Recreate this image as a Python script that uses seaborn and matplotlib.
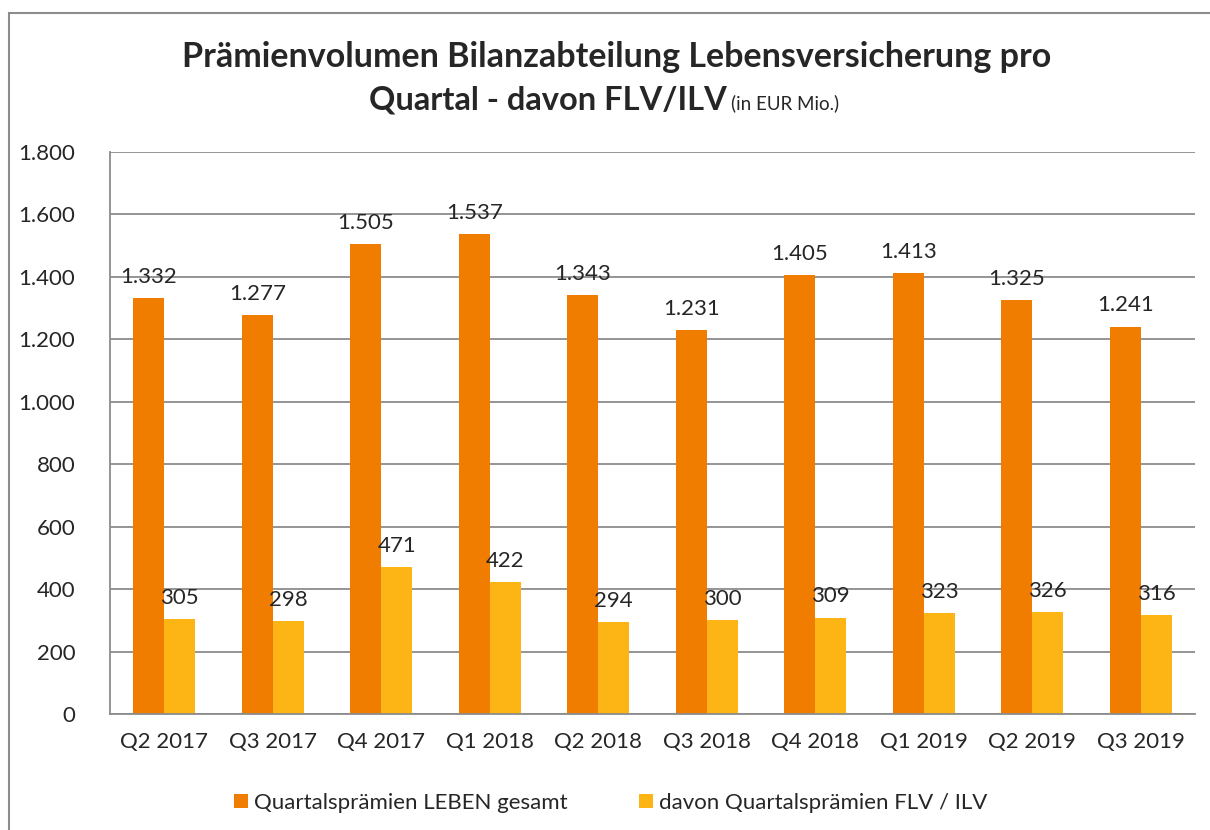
import matplotlib
matplotlib.use("Agg")
import matplotlib.pyplot as plt
import seaborn as sns
import pandas as pd
from matplotlib.patches import Rectangle, Patch

quarters = ["Q2 2017", "Q3 2017", "Q4 2017", "Q1 2018", "Q2 2018",
            "Q3 2018", "Q4 2018", "Q1 2019", "Q2 2019", "Q3 2019"]
gesamt = [1332, 1277, 1505, 1537, 1343, 1231, 1405, 1413, 1325, 1241]
flv_ilv = [305, 298, 471, 422, 294, 300, 309, 323, 326, 316]
series_names = ["Quartalsprämien LEBEN gesamt", "davon Quartalsprämien FLV / ILV"]
colors = ["#F07D00", "#FDB515"]
yticks = [0, 200, 400, 600, 800, 1000, 1200, 1400, 1600, 1800]

df = pd.DataFrame({
    "Quartal": quarters * 2,
    "Wert": gesamt + flv_ilv,
    "Serie": [series_names[0]] * len(quarters) + [series_names[1]] * len(quarters),
})

sns.set_style("white")
plt.rcParams["font.family"] = ["Lato", "DejaVu Sans"]

fig = plt.figure(figsize=(12.1, 8.3), dpi=100)
ax = fig.add_axes([110 / 1210, 1 - 714 / 830, (1195 - 110) / 1210, (714 - 152) / 830])

sns.barplot(data=df, x="Quartal", y="Wert", hue="Serie", palette=colors,
            width=0.57, saturation=1, ax=ax, legend=False, order=quarters,
            hue_order=series_names, linewidth=0)

ax.set_ylim(0, 1800)
ax.set_yticks(yticks)
ax.set_yticklabels([f"{v:,}".replace(",", ".") for v in yticks], fontsize=16)
ax.set_xlim(-0.5, len(quarters) - 0.5)
ax.tick_params(axis="x", labelsize=16, length=0, pad=13)
ax.tick_params(axis="y", length=0, pad=25)
ax.set_xlabel("")
ax.set_ylabel("")
ax.yaxis.grid(True, color="#8c8c8c", linewidth=1.3)
ax.set_axisbelow(True)
for s in ["top", "right"]:
    ax.spines[s].set_visible(False)
for s in ["left", "bottom"]:
    ax.spines[s].set_color("#8c8c8c")
    ax.spines[s].set_linewidth(1.3)

for cont in ax.containers:
    ax.bar_label(cont, labels=[f"{int(round(b.get_height())):,}".replace(",", ".") for b in cont],
                 padding=8, fontsize=16)

# Title
fig.text(0.51, 1 - 57 / 830, "Prämienvolumen Bilanzabteilung Lebensversicherung pro",
         ha="center", va="center", fontsize=24.5, fontweight="bold")
fig.text(727 / 1210, 1 - 100 / 830, "Quartal - davon FLV/ILV",
         ha="right", va="center", fontsize=23.5, fontweight="bold")
fig.text(731 / 1210, 1 - 103 / 830, "(in EUR Mio.)", ha="left", va="center", fontsize=13.5)

# Legend
handles = [Patch(facecolor=c, edgecolor="none") for c in colors]
fig.legend(handles, series_names, loc="center", bbox_to_anchor=(0.505, 1 - 803 / 830),
           ncol=2, frameon=False, fontsize=16, handlelength=0.6, handleheight=0.6,
           handletextpad=0.3, columnspacing=3.2)

# Outer frame
fig.patches.append(Rectangle((9 / 1210, -0.1), 1.2, 1 - 13 / 830 + 0.1,
                             transform=fig.transFigure, fill=False,
                             edgecolor="#8c8c8c", linewidth=1.5))

fig.savefig("out.png", dpi=100)
